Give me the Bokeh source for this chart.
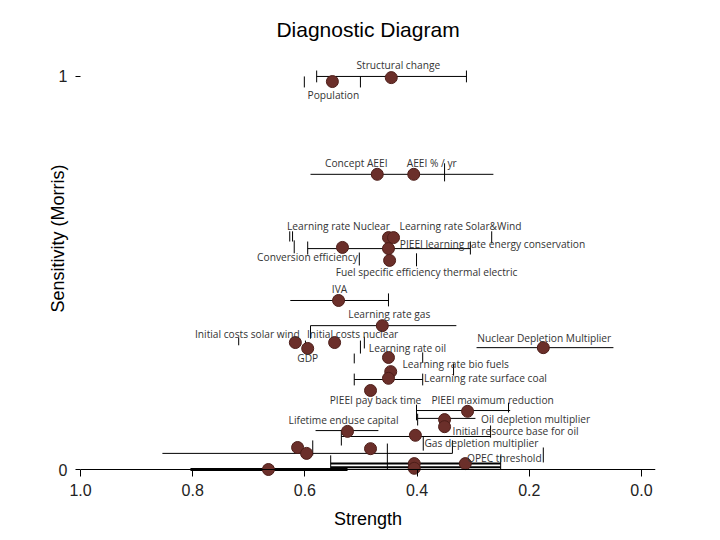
from bokeh.plotting import figure
from bokeh.models import Range1d, FixedTicker, Span
from bokeh.embed import file_html
from bokeh.resources import INLINE
from bokeh.core.properties import value

# ---------------- data ----------------
point_names = [
    "Structural change", "Population", "Concept AEEI", "AEEI % / yr",
    "Learning rate Nuclear", "Learning rate Solar&Wind",
    "PIEEI learning rate energy conservation", "Conversion efficiency",
    "Fuel specific efficiency thermal electric", "IVA", "Learning rate gas",
    "Initial costs solar wind", "GDP", "Initial costs nuclear",
    "Nuclear Depletion Multiplier", "Learning rate oil", "Learning rate bio fuels",
    "Learning rate surface coal", "PIEEI pay back time", "PIEEI maximum reduction",
    "Oil depletion multiplier", "Initial resource base for oil",
    "Lifetime enduse capital", "Gas depletion multiplier", "OPEC threshold",
    "", "", "", "", "", "",
]
strength = [
    0.446, 0.551, 0.471, 0.406, 0.451, 0.442, 0.451, 0.533, 0.449, 0.540,
    0.462, 0.617, 0.595, 0.547, 0.175, 0.451, 0.447, 0.451, 0.483, 0.310,
    0.351, 0.351, 0.524, 0.403, 0.314, 0.613, 0.597, 0.483, 0.405, 0.405, 0.665,
]
sensitivity = [
    0.997, 0.987, 0.751, 0.751, 0.590, 0.590, 0.562, 0.565, 0.532, 0.430,
    0.366, 0.323, 0.308, 0.323, 0.310, 0.285, 0.249, 0.232, 0.201, 0.148,
    0.127, 0.109, 0.097, 0.087, 0.015, 0.056, 0.041, 0.053, 0.015, 0.003, 0.000,
]

# horizontal interval bars
bar_sensitivity = [1.000, 0.751, 0.562, 0.430, 0.366, 0.310, 0.229, 0.150,
                   0.130, 0.099, 0.084, 0.041, 0.015, 0.006, 0.000]
bar_from = [0.579, 0.590, 0.595, 0.626, 0.590, 0.294, 0.512, 0.401,
            0.399, 0.581, 0.535, 0.854, 0.554, 0.554, 0.804]
bar_to = [0.312, 0.264, 0.305, 0.451, 0.330, 0.050, 0.390, 0.234,
          0.296, 0.469, 0.269, 0.337, 0.251, 0.251, 0.524]

# interval end marks
cap_strength = [0.579, 0.312, 0.601, 0.501, 0.351, 0.627, 0.622, 0.619, 0.595,
                0.305, 0.503, 0.401, 0.267, 0.451, 0.590, 0.718, 0.599, 0.501,
                0.494, 0.512, 0.390, 0.335, 0.512, 0.390, 0.401, 0.237, 0.399,
                0.535, 0.269, 0.389, 0.586, 0.337, 0.175, 0.554, 0.453, 0.251]
cap_low = [0.985, 0.985, 0.972, 0.972, 0.733, 0.580, 0.580, 0.550, 0.547,
           0.547, 0.519, 0.517, 0.575, 0.415, 0.333, 0.316, 0.298, 0.295,
           0.308, 0.270, 0.272, 0.239, 0.214, 0.214, 0.125, 0.145, 0.112,
           0.061, 0.081, 0.048, 0.036, 0.041, 0.018, 0.000, 0.000, 0.000]
cap_high = [1.015, 1.015, 1.000, 1.000, 0.779, 0.606, 0.606, 0.583, 0.580,
            0.580, 0.552, 0.550, 0.606, 0.448, 0.366, 0.336, 0.328, 0.328,
            0.338, 0.295, 0.298, 0.270, 0.244, 0.244, 0.165, 0.170, 0.142,
            0.099, 0.112, 0.084, 0.074, 0.074, 0.056, 0.036, 0.066, 0.036]

x_ticks = [1.0, 0.8, 0.6, 0.4, 0.2, 0.0]
x_tick_labels = ["1.0", "0.8", "0.6", "0.4", "0.2", "0.0"]
y_ticks = [0, 1]
y_tick_labels = ["0", "1"]

# ---------------- styles ----------------
bar_widths = [1] * 12 + [2, 2, 3]
label_offsets = [
    (7, -13), (1, 13), (-21, -11), (18, -11), (-50, -12), (67, -12), (104, -5),
    (-35, 10), (37, 12), (1, -11), (7, -12), (-48, -9), (0, 10), (18, -9),
    (1, -10), (19, -9), (65, -8), (97, 0), (5, 10), (25, -11), (91, -1),
    (71, 4), (-4, -11), (66, 8), (39, -6),
    (0, 0), (0, 0), (0, 0), (0, 0), (0, 0), (0, 0),
]

p = figure(width=720, height=540, output_backend="svg", toolbar_location=None,
           x_range=Range1d(1.0, -0.025), y_range=Range1d(-0.0178, 1.066),
           min_border_left=80, min_border_right=65, min_border_top=50,
           min_border_bottom=64)
p.background_fill_color = "white"
p.border_fill_color = "white"
p.outline_line_color = None
p.grid.visible = False

# zero line
p.add_layout(Span(location=0, dimension="width", line_color="black", line_width=1))

p.segment(x0=bar_from, y0=bar_sensitivity, x1=bar_to, y1=bar_sensitivity,
          line_color="black", line_width=bar_widths)
p.segment(x0=cap_strength, y0=cap_low, x1=cap_strength, y1=cap_high,
          line_color="black", line_width=1)

p.scatter(x=strength, y=sensitivity, size=12, fill_color="#6b2f2a",
          line_color="#4e1f1a", line_width=1)

p.text(x=strength, y=sensitivity, text=point_names,
       x_offset=[o[0] for o in label_offsets], y_offset=[o[1] for o in label_offsets],
       text_align="center", text_baseline="middle",
       text_font=value("Open Sans"), text_font_size="10.2px", text_color="#333333")

# title
p.title.text = "Diagnostic Diagram"
p.title.align = "center"
p.title.text_font = "Liberation Sans"
p.title.text_font_size = "21px"
p.title.text_font_style = "normal"
p.title.text_color = "black"
p.title.standoff = 19

# axes
p.xaxis.ticker = FixedTicker(ticks=x_ticks)
p.xaxis.major_label_overrides = dict(zip(x_ticks, x_tick_labels))
p.xaxis.axis_line_color = None
p.xaxis.major_tick_in = 7
p.xaxis.major_tick_out = 0
p.xaxis.minor_tick_line_color = None
p.xaxis.major_label_standoff = 7
p.xaxis.major_label_text_font = "Liberation Sans"
p.xaxis.major_label_text_font_size = "16px"
p.xaxis.major_label_text_color = "#222222"
p.xaxis.axis_label = "Strength"
p.xaxis.axis_label_text_font = "Liberation Sans"
p.xaxis.axis_label_text_font_size = "18px"
p.xaxis.axis_label_text_font_style = "normal"
p.xaxis.axis_label_text_color = "black"
p.xaxis.axis_label_standoff = 10

p.yaxis.ticker = FixedTicker(ticks=y_ticks)
p.yaxis.major_label_overrides = dict(zip(y_ticks, y_tick_labels))
p.yaxis.axis_line_color = None
p.yaxis.major_tick_in = 0
p.yaxis.major_tick_out = 5
p.yaxis.minor_tick_line_color = None
p.yaxis.major_label_standoff = 8
p.yaxis.major_label_text_font = "Liberation Sans"
p.yaxis.major_label_text_font_size = "16px"
p.yaxis.major_label_text_color = "#222222"
# leading no-break spaces lift the centred label to where the reference has it
p.yaxis.axis_label = "\u00a0" * 10 + "Sensitivity (Morris)"
p.yaxis.axis_label_text_font = "Liberation Sans"
p.yaxis.axis_label_text_font_size = "18px"
p.yaxis.axis_label_text_font_style = "normal"
p.yaxis.axis_label_text_color = "black"
p.yaxis.axis_label_standoff = -12

open("out.html", "w").write(file_html(p, INLINE))
